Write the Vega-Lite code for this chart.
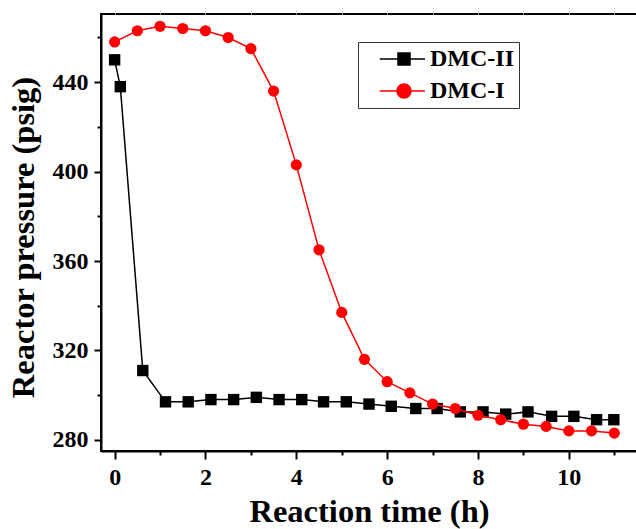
{
  "$schema": "https://vega.github.io/schema/vega-lite/v6.json",
  "width": 536,
  "height": 437,
  "autosize": {"type": "none"},
  "padding": {"left": 101, "top": 14, "right": 0, "bottom": 78},
  "background": "white",
  "config": {
    "view": {"stroke": "black", "strokeWidth": 2},
    "axis": {
      "grid": false,
      "domainColor": "black",
      "domainWidth": 2,
      "tickColor": "black",
      "tickWidth": 2,
      "labelColor": "black",
      "labelFont": "Liberation Serif",
      "labelFontWeight": "bold",
      "labelFontSize": 24,
      "titleFont": "Liberation Serif",
      "titleFontWeight": "bold",
      "titleFontSize": 32.5,
      "titleColor": "black"
    },
    "legend": {
      "labelFont": "Liberation Serif",
      "labelFontWeight": "bold",
      "labelFontSize": 24,
      "labelColor": "black"
    }
  },
  "data": {
    "values": [
      {"series": "DMC-II", "t": 0, "p": 450},
      {"series": "DMC-II", "t": 0.125, "p": 438},
      {"series": "DMC-II", "t": 0.62, "p": 311},
      {"series": "DMC-II", "t": 1.12, "p": 297},
      {"series": "DMC-II", "t": 1.62, "p": 297},
      {"series": "DMC-II", "t": 2.12, "p": 298},
      {"series": "DMC-II", "t": 2.62, "p": 298},
      {"series": "DMC-II", "t": 3.12, "p": 299},
      {"series": "DMC-II", "t": 3.62, "p": 298},
      {"series": "DMC-II", "t": 4.12, "p": 298},
      {"series": "DMC-II", "t": 4.6, "p": 297},
      {"series": "DMC-II", "t": 5.1, "p": 297},
      {"series": "DMC-II", "t": 5.6, "p": 296},
      {"series": "DMC-II", "t": 6.09, "p": 295},
      {"series": "DMC-II", "t": 6.63, "p": 294},
      {"series": "DMC-II", "t": 7.1, "p": 294},
      {"series": "DMC-II", "t": 7.61, "p": 292.5},
      {"series": "DMC-II", "t": 8.11, "p": 292.5},
      {"series": "DMC-II", "t": 8.61, "p": 291.5},
      {"series": "DMC-II", "t": 9.1, "p": 292.5},
      {"series": "DMC-II", "t": 9.62, "p": 290.5},
      {"series": "DMC-II", "t": 10.11, "p": 290.5},
      {"series": "DMC-II", "t": 10.61, "p": 289},
      {"series": "DMC-II", "t": 10.99, "p": 289},
      {"series": "DMC-I", "t": 0, "p": 458},
      {"series": "DMC-I", "t": 0.5, "p": 463},
      {"series": "DMC-I", "t": 1, "p": 465},
      {"series": "DMC-I", "t": 1.5, "p": 464},
      {"series": "DMC-I", "t": 2, "p": 463},
      {"series": "DMC-I", "t": 2.5, "p": 460},
      {"series": "DMC-I", "t": 3, "p": 455},
      {"series": "DMC-I", "t": 3.5, "p": 436},
      {"series": "DMC-I", "t": 4, "p": 403},
      {"series": "DMC-I", "t": 4.5, "p": 365},
      {"series": "DMC-I", "t": 5, "p": 337},
      {"series": "DMC-I", "t": 5.5, "p": 316},
      {"series": "DMC-I", "t": 6, "p": 306},
      {"series": "DMC-I", "t": 6.5, "p": 301},
      {"series": "DMC-I", "t": 7, "p": 296},
      {"series": "DMC-I", "t": 7.5, "p": 294},
      {"series": "DMC-I", "t": 8, "p": 291},
      {"series": "DMC-I", "t": 8.5, "p": 289},
      {"series": "DMC-I", "t": 9, "p": 287},
      {"series": "DMC-I", "t": 9.5, "p": 286},
      {"series": "DMC-I", "t": 10, "p": 284},
      {"series": "DMC-I", "t": 10.5, "p": 284},
      {"series": "DMC-I", "t": 11, "p": 283}
    ]
  },
  "resolve": {"axis": {"x": "independent", "y": "independent"}},
  "layer": [
    {
      "transform": [{"filter": "datum.series === 'DMC-II'"}],
      "mark": {"type": "line", "color": "black", "strokeWidth": 1.5},
      "encoding": {
        "x": {"field": "t", "type": "quantitative", "scale": {"domain": [-0.3, 11.5], "nice": false, "zero": false},
              "axis": {"orient": "bottom", "values": [0, 2, 4, 6, 8, 10], "tickSize": 8, "labelPadding": 6, "labelFont": "Liberation Serif", "labelFontWeight": "bold", "labelFontSize": 24, "labelColor": "black", "title": "Reaction time (h)", "titlePadding": 6}},
        "y": {"field": "p", "type": "quantitative", "scale": {"domain": [275, 470.5], "nice": false, "zero": false},
              "axis": {"orient": "left", "values": [280, 320, 360, 400, 440], "tickSize": 7, "labelPadding": 6, "labelFont": "Liberation Serif", "labelFontWeight": "bold", "labelFontSize": 24, "labelColor": "black", "title": "Reactor pressure (psig)", "titlePadding": 12, "titleY": 223}}
      }
    },
    {
      "transform": [{"filter": "datum.series === 'DMC-II'"}],
      "mark": {"type": "point", "shape": "square", "filled": true, "color": "black", "opacity": 1, "size": 130},
      "encoding": {
        "x": {"field": "t", "type": "quantitative", "scale": {"domain": [-0.3, 11.5], "nice": false, "zero": false},
              "axis": {"orient": "bottom", "values": [1, 3, 5, 7, 9, 11], "tickSize": 4, "labels": false, "domain": false, "title": null}},
        "y": {"field": "p", "type": "quantitative", "scale": {"domain": [275, 470.5], "nice": false, "zero": false},
              "axis": {"orient": "left", "values": [300, 340, 380, 420, 460], "tickSize": 4, "labels": false, "domain": false, "title": null}}
      }
    },
    {
      "transform": [{"filter": "datum.series === 'DMC-I'"}],
      "mark": {"type": "line", "color": "#ff0000", "strokeWidth": 1.5},
      "encoding": {
        "x": {"field": "t", "type": "quantitative", "scale": {"domain": [-0.3, 11.5], "nice": false, "zero": false},
              "axis": {"orient": "top", "values": [0, 1, 2, 3, 4, 5, 6, 7, 8, 9, 10, 11], "tickSize": 3, "tickWidth": 1, "tickColor": "#bbbbbb", "labels": false, "domain": false, "title": null}},
        "y": {"field": "p", "type": "quantitative", "scale": {"domain": [275, 470.5], "nice": false, "zero": false}, "axis": null}
      }
    },
    {
      "transform": [{"filter": "datum.series === 'DMC-I'"}],
      "mark": {"type": "point", "shape": "circle", "filled": true, "color": "#ff0000", "opacity": 1, "size": 125},
      "encoding": {
        "x": {"field": "t", "type": "quantitative", "scale": {"domain": [-0.3, 11.5], "nice": false, "zero": false}, "axis": null},
        "y": {"field": "p", "type": "quantitative", "scale": {"domain": [275, 470.5], "nice": false, "zero": false}, "axis": null}
      }
    },
    {
      "mark": {"type": "point", "filled": true, "opacity": 0},
      "encoding": {
        "x": {"field": "t", "type": "quantitative", "scale": {"domain": [-0.3, 11.5], "nice": false, "zero": false}, "axis": null},
        "y": {"field": "p", "type": "quantitative", "scale": {"domain": [275, 470.5], "nice": false, "zero": false}, "axis": null},
        "shape": {"field": "series", "type": "nominal",
                  "scale": {"domain": ["DMC-II", "DMC-I"], "range": ["M0.47,0H5.0M2.3,-0.6H3.5V0.6H2.3Z", "M0.47,0H5.0M2.2,0A0.7,0.7,0,1,0,3.6,0A0.7,0.7,0,1,0,2.2,0Z"]},
                  "legend": {"title": null, "orient": "none", "legendX": 257, "legendY": 28, "strokeColor": "#333333", "padding": 5, "symbolSize": 400, "symbolStrokeWidth": 1.5, "symbolOpacity": 1, "labelOffset": 43, "rowPadding": 8}},
        "fill": {"field": "series", "type": "nominal", "scale": {"domain": ["DMC-II", "DMC-I"], "range": ["black", "#ff0000"]},
                 "legend": {"title": null, "orient": "none", "legendX": 257, "legendY": 28, "strokeColor": "#333333", "padding": 5, "symbolSize": 400, "symbolStrokeWidth": 1.5, "symbolOpacity": 1, "labelOffset": 43, "rowPadding": 8}},
        "stroke": {"field": "series", "type": "nominal", "scale": {"domain": ["DMC-II", "DMC-I"], "range": ["black", "#ff0000"]},
                   "legend": {"title": null, "orient": "none", "legendX": 257, "legendY": 28, "strokeColor": "#333333", "padding": 5, "symbolSize": 400, "symbolStrokeWidth": 1.5, "symbolOpacity": 1, "labelOffset": 43, "rowPadding": 8}}
      }
    }
  ]
}
